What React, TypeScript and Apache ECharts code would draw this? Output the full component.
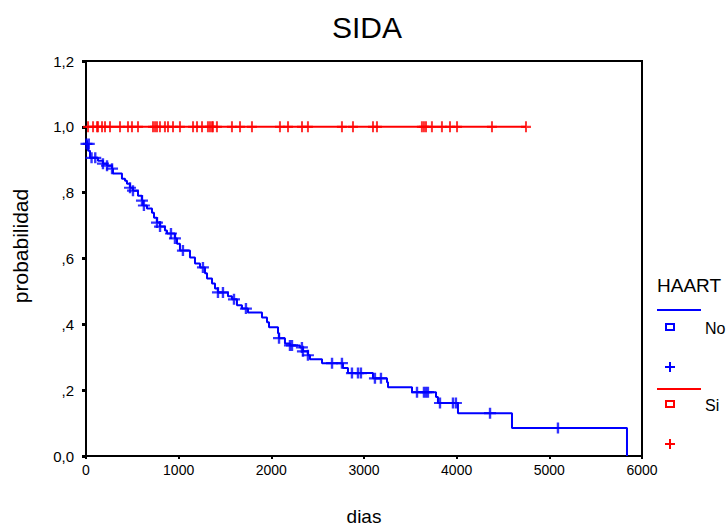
import React, { useEffect, useRef } from "react";
import * as echarts from "echarts";

// Kaplan-Meier step curve, HAART = No
const noDays = [0, 11, 22, 43, 129, 183, 227, 281, 291, 388, 421, 442, 475, 507, 561, 604, 615, 658, 712, 734, 766, 799, 852, 874, 960, 982, 1014, 1122, 1176, 1230, 1284, 1306, 1360, 1392, 1424, 1532, 1575, 1629, 1683, 1748, 1899, 1953, 1975, 2072, 2083, 2147, 2201, 2309, 2341, 2395, 2417, 2547, 2773, 2827, 3097, 3248, 3259, 3518, 3777, 3798, 4014, 4597, 5838];
const noProb = [0.958, 0.948, 0.927, 0.906, 0.897, 0.888, 0.882, 0.873, 0.858, 0.842, 0.836, 0.827, 0.815, 0.806, 0.791, 0.776, 0.761, 0.752, 0.739, 0.724, 0.709, 0.697, 0.685, 0.676, 0.661, 0.645, 0.624, 0.603, 0.585, 0.573, 0.555, 0.539, 0.524, 0.509, 0.497, 0.485, 0.476, 0.458, 0.448, 0.436, 0.421, 0.406, 0.391, 0.373, 0.358, 0.342, 0.336, 0.33, 0.318, 0.306, 0.294, 0.282, 0.267, 0.252, 0.236, 0.224, 0.209, 0.194, 0.179, 0.161, 0.13, 0.085, 0.0];

// censored cases, HAART = No
const noCensDays = [5, 30, 60, 100, 183, 227, 281, 475, 507, 604, 625, 766, 799, 917, 960, 1046, 1262, 1424, 1478, 1597, 1726, 2083, 2201, 2223, 2330, 2341, 2395, 2655, 2762, 2870, 2935, 2967, 3118, 3183, 3572, 3647, 3669, 3690, 3820, 3960, 3992, 4360, 5093];
const noCensProb = [0.948, 0.948, 0.906, 0.906, 0.888, 0.882, 0.873, 0.815, 0.806, 0.776, 0.761, 0.709, 0.697, 0.676, 0.661, 0.624, 0.573, 0.497, 0.497, 0.476, 0.448, 0.358, 0.336, 0.336, 0.33, 0.318, 0.306, 0.282, 0.282, 0.252, 0.252, 0.252, 0.236, 0.236, 0.194, 0.194, 0.194, 0.194, 0.161, 0.161, 0.161, 0.13, 0.085];

// HAART = Si : no events
const siDays = [0, 4750];
const siProb = [1.0, 1.0];
const siCensDays = [22, 76, 119, 130, 173, 205, 259, 367, 453, 496, 561, 723, 745, 766, 798, 852, 885, 939, 1014, 1155, 1198, 1252, 1316, 1338, 1360, 1370, 1413, 1575, 1662, 1791, 2093, 2180, 2331, 2395, 2762, 2881, 3097, 3140, 3625, 3647, 3669, 3733, 3841, 3928, 4004, 4381, 4748];

const yTickLabels: Record<string, string> = {
  "0": "0,0", "0.2": ",2", "0.4": ",4", "0.6": ",6", "0.8": ",8", "1": "1,0", "1.2": "1,2",
};

const BLUE = "#0000ff";
const RED = "#ff0000";
const FONT = "'Liberation Sans', Arial, sans-serif";
const PLUS = "path://M4,0L6,0L6,4L10,4L10,6L6,6L6,10L4,10L4,6L0,6L0,4L4,4Z";

export default function App() {
  const ref = useRef<HTMLDivElement>(null);
  useEffect(() => {
    if (!ref.current) return;
    const chart = echarts.init(ref.current, undefined, { renderer: "svg" });
    const legendX = 657;
    chart.setOption({
      animation: false,
      backgroundColor: "#ffffff",
      title: {
        text: "SIDA",
        left: 327,
        top: 7,
        textStyle: { fontFamily: FONT, fontSize: 30, fontWeight: "normal", color: "#000" },
      },
      grid: {
        left: 86, right: 85, top: 61, bottom: 74,
        outerBoundsMode: "none",
        containLabel: false,
        show: true, borderColor: "#000", borderWidth: 2, backgroundColor: "transparent",
      },
      xAxis: {
        type: "value", min: 0, max: 6000, interval: 1000,
        name: "dias", nameLocation: "middle", nameGap: 51,
        nameTextStyle: { fontFamily: FONT, fontSize: 19, color: "#000" },
        axisLine: { show: true, lineStyle: { color: "#000", width: 2 } },
        axisTick: { show: true, length: 3, lineStyle: { color: "#000", width: 2 } },
        axisLabel: {
          fontFamily: FONT, fontSize: 14, color: "#000", margin: 7,
          formatter: (v: number) => String(v),
        },
        splitLine: { show: false },
      },
      yAxis: {
        type: "value", min: 0, max: 1.2, interval: 0.2,
        axisLine: { show: true, lineStyle: { color: "#000", width: 2 } },
        axisTick: { show: true, length: 4, lineStyle: { color: "#000", width: 3 } },
        axisLabel: {
          fontFamily: FONT, fontSize: 15, color: "#000", margin: 12,
          formatter: (v: number) => yTickLabels[String(Math.round(v * 10) / 10)] ?? String(v),
        },
        splitLine: { show: false },
      },
      series: [
        {
          type: "line", step: "end", showSymbol: false, symbol: "none",
          data: noDays.map((d, i) => [d, noProb[i]]),
          lineStyle: { color: BLUE, width: 2 },
          z: 3,
        },
        {
          type: "scatter", symbol: PLUS, symbolSize: [12, 11],
          data: noCensDays.map((d, i) => [d, noCensProb[i]]),
          itemStyle: { color: BLUE }, z: 4,
        },
        {
          type: "line", showSymbol: false, symbol: "none",
          data: siDays.map((d, i) => [d, siProb[i]]),
          lineStyle: { color: RED, width: 2 },
          z: 3,
        },
        {
          type: "scatter", symbol: PLUS, symbolSize: [10, 11],
          data: siCensDays.map((d) => [d, 1.0]),
          itemStyle: { color: RED }, z: 4,
        },
      ],
      graphic: [
        {
          type: "text", x: 20, y: 246, rotation: Math.PI / 2,
          style: { text: "probabilidad", font: `21px ${FONT}`, fill: "#000", align: "center", verticalAlign: "middle" },
        },
        { type: "text", left: legendX, top: 276, style: { text: "HAART", font: `19px ${FONT}`, fill: "#000" } },
        { type: "line", shape: { x1: legendX, y1: 310, x2: 701, y2: 310 }, style: { stroke: BLUE, lineWidth: 2 } },
        { type: "rect", shape: { x: 666, y: 324, width: 8, height: 6 }, style: { fill: "none", stroke: BLUE, lineWidth: 2 } },
        { type: "text", left: 705, top: 320, style: { text: "No", font: `16px ${FONT}`, fill: "#000" } },
        { type: "line", shape: { x1: 670, y1: 362, x2: 670, y2: 372 }, style: { stroke: BLUE, lineWidth: 2 } },
        { type: "line", shape: { x1: 665, y1: 367, x2: 675, y2: 367 }, style: { stroke: BLUE, lineWidth: 2 } },
        { type: "line", shape: { x1: legendX, y1: 389, x2: 701, y2: 389 }, style: { stroke: RED, lineWidth: 2 } },
        { type: "rect", shape: { x: 666, y: 401, width: 8, height: 6 }, style: { fill: "none", stroke: RED, lineWidth: 2 } },
        { type: "text", left: 705, top: 397, style: { text: "Si", font: `16px ${FONT}`, fill: "#000" } },
        { type: "line", shape: { x1: 670, y1: 439, x2: 670, y2: 449 }, style: { stroke: RED, lineWidth: 2 } },
        { type: "line", shape: { x1: 665, y1: 444, x2: 675, y2: 444 }, style: { stroke: RED, lineWidth: 2 } },
      ],
    });
    return () => chart.dispose();
  }, []);
  return <div ref={ref} style={{ width: 727, height: 530, position: "absolute", left: 0, top: 0 }} />;
}
